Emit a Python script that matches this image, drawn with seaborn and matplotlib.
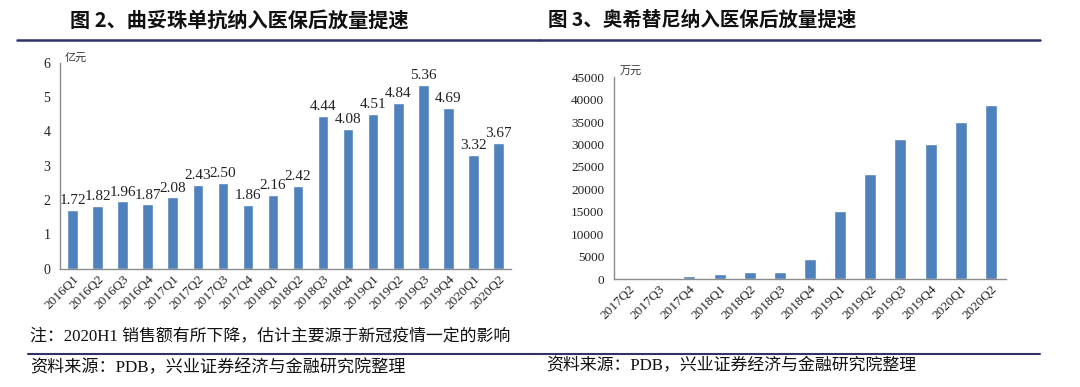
import matplotlib
matplotlib.use("Agg")
import matplotlib.pyplot as plt
import seaborn as sns
import pandas as pd
import numpy as np
from matplotlib.lines import Line2D

sns.set_theme(style="white")
plt.rcParams['font.family'] = ['Liberation Serif', 'Noto Sans CJK SC', 'DejaVu Sans']

# ---- data ----
left_quarters = ["2016Q1", "2016Q2", "2016Q3", "2016Q4", "2017Q1", "2017Q2", "2017Q3", "2017Q4",
                 "2018Q1", "2018Q2", "2018Q3", "2018Q4", "2019Q1", "2019Q2", "2019Q3", "2019Q4",
                 "2020Q1", "2020Q2"]
left_values = [1.72, 1.82, 1.96, 1.87, 2.08, 2.43, 2.50, 1.86, 2.16, 2.42, 4.44, 4.08, 4.51, 4.84,
               5.36, 4.69, 3.32, 3.67]

right_quarters = ["2017Q2", "2017Q3", "2017Q4", "2018Q1", "2018Q2", "2018Q3", "2018Q4", "2019Q1",
                  "2019Q2", "2019Q3", "2019Q4", "2020Q1", "2020Q2"]
right_values = [30, 220, 600, 1190, 1640, 1640, 4540, 15250, 23360, 31320, 30200, 34960, 38900]

left_title = "图 2、曲妥珠单抗纳入医保后放量提速"
right_title = "图 3、奥希替尼纳入医保后放量提速"
left_unit = "亿元"
right_unit = "万元"
note_text = "注：2020H1 销售额有所下降，估计主要源于新冠疫情一定的影响"
source_text = "资料来源：PDB，兴业证券经济与金融研究院整理"

BAR = "#4F81BD"
AXC = "#8C8C8C"
NAVY = "#2E3468"
CJK = ['Noto Sans CJK SC', 'DejaVu Sans']
SERIF_CJK = ['Liberation Serif', 'Noto Sans CJK SC']

W, H = 1080, 387
fig = plt.figure(figsize=(W / 100, H / 100), dpi=100)


def px_axes(x0, y0, x1, y1):
    return fig.add_axes([x0 / W, 1 - y1 / H, (x1 - x0) / W, (y1 - y0) / H])


def style_axes(ax, n):
    for s in ["top", "right"]:
        ax.spines[s].set_visible(False)
    for s in ["left", "bottom"]:
        ax.spines[s].set_color(AXC)
        ax.spines[s].set_linewidth(1.0)
    ax.set_xlim(-0.5, n - 0.5)
    ax.set_xlabel("")
    ax.set_ylabel("")
    ax.set_xticks(np.arange(n - 1) + 0.5, minor=True)
    ax.tick_params(axis="x", which="major", length=0, pad=3)
    ax.tick_params(axis="x", which="minor", length=4, color=AXC, direction="out")
    ax.tick_params(axis="y", which="major", length=3, color=AXC, direction="out", pad=4)
    ax.tick_params(axis="both", labelsize=10, colors="#222222")
    for lab in ax.get_xticklabels():
        lab.set_rotation(45)
        lab.set_ha("right")
        lab.set_rotation_mode("anchor")
        lab.set_fontsize(9.5)


# ---- left chart ----
axL = px_axes(60, 62.7, 511, 268.7)
dfL = pd.DataFrame({"q": left_quarters, "v": left_values})
sns.barplot(data=dfL, x="q", y="v", color=BAR, width=0.42, saturation=1, ax=axL)
axL.set_ylim(0, 6)
axL.set_yticks(range(0, 7))
style_axes(axL, len(left_quarters))
axL.bar_label(axL.containers[0], labels=[f"{v:.2f}" for v in left_values], padding=2,
              fontsize=11, color="#222222")
axL.text(0.01, 1.0, left_unit, transform=axL.transAxes, fontsize=8, family=CJK,
         color="#333333", va="bottom", ha="left")

# ---- right chart ----
axR = px_axes(614, 77.3, 1006, 279)
dfR = pd.DataFrame({"q": right_quarters, "v": right_values})
sns.barplot(data=dfR, x="q", y="v", color=BAR, width=0.4, saturation=1, ax=axR)
axR.set_ylim(0, 45000)
axR.set_yticks(range(0, 45001, 5000))
style_axes(axR, len(right_quarters))
axR.tick_params(axis="y", labelsize=9.5)
axR.text(0.015, 1.0, right_unit, transform=axR.transAxes, fontsize=8, family=CJK,
         color="#333333", va="bottom", ha="left")

# ---- titles, rules, notes ----
fig.text(70 / W, 1 - 20 / H, left_title, fontsize=14.5, fontweight="bold", family=CJK,
         va="center", ha="left", color="#111111")
fig.text(548 / W, 1 - 20 / H, right_title, fontsize=14, fontweight="bold", family=CJK,
         va="center", ha="left", color="#111111")

for (x0, x1) in [(17, 540), (540, 1040)]:
    fig.add_artist(Line2D([x0 / W, x1 / W], [1 - 40 / H, 1 - 40 / H], color=NAVY, lw=1.8))
    fig.add_artist(Line2D([(x0 if x0 > 17 else 28) / W, x1 / W], [1 - 354 / H, 1 - 354 / H],
                          color=NAVY, lw=1.5))

fig.text(30 / W, 1 - 337 / H, note_text, fontsize=12.2, family=SERIF_CJK, va="center",
         ha="left", color="#111111")
fig.text(30 / W, 1 - 368 / H, source_text, fontsize=12.3, family=SERIF_CJK, va="center",
         ha="left", color="#111111")
fig.text(546 / W, 1 - 366 / H, source_text, fontsize=12.2, family=SERIF_CJK, va="center",
         ha="left", color="#111111")

fig.savefig("out.png", dpi=100)
